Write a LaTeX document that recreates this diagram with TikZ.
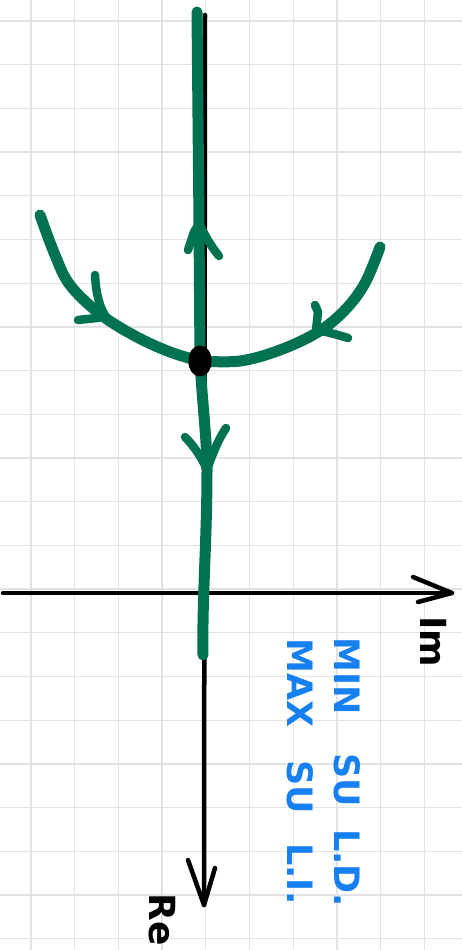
\documentclass[tikz,border=0pt]{standalone}
\usepackage{fontspec}
\setmainfont{DejaVu Sans}
\usetikzlibrary{shapes.geometric}
\definecolor{gridc}{RGB}{224,226,230}
\definecolor{pathg}{RGB}{0,114,82}
\definecolor{noteb}{RGB}{22,128,240}
\begin{document}
\begin{tikzpicture}[x=1pt,y=-1pt,
  gridline/.style={draw=gridc,line width=1.3pt},
  axisline/.style={draw=black,line width=4.5pt,line cap=round,line join=round},
  flow/.style={draw=pathg,line width=11pt,line cap=round,line join=round},
  flowarm/.style={draw=pathg,line width=8.5pt,line cap=round,line join=round},
  eqdot/.style={fill=black,ellipse,minimum width=23pt,minimum height=31pt,inner sep=0pt},
  note/.style={text=noteb,font=\bfseries\fontsize{35}{35}\selectfont,rotate=-90,inner sep=0pt},
  axlabel/.style={text=black,font=\bfseries\fontsize{36}{36}\selectfont,rotate=-90,inner sep=0pt}]
\useasboundingbox (0,0) rectangle (462,950);
\fill[white] (0,0) rectangle (462,950);
% grid
\foreach \i in {0,...,10} {\draw[gridline] ({31+43.7*\i},0) -- ({31+43.7*\i},950);}
\foreach \j in {0,...,21} {\draw[gridline] (0,{21+43.7*\j}) -- (462,{21+43.7*\j});}
% axes
\coordinate (imL) at (3,593);
\coordinate (imR) at (452,593);
\coordinate (reT) at (205,15);
\coordinate (reB) at (204,905);
\draw[axisline] (imL) -- (imR);
\draw[axisline] (413,577) -- (imR) -- (418,602);
\draw[axisline] (reT) -- (reB);
\draw[axisline] (188,860) -- (reB) -- (215,868);
\node[axlabel] (im) at (434,642) {Im};
\node[axlabel] (re) at (162,920) {Re};
% trajectories
\node[eqdot] (eq) at (200,361) {};
\coordinate (top) at (197,12);
\coordinate (upT) at (199,224);
\coordinate (dnT) at (207,470);
\coordinate (bot) at (203,655);
\coordinate (lT) at (40,215);
\coordinate (rT) at (380,247);
\draw[flow] (top) -- (upT) -- (eq.center);
\draw[flowarm] (188,250) -- (194,232) -- (upT) .. controls (205,235) and (210,245) .. (219,256);
\draw[flow] (eq.center) .. controls (202,400) and (207,440) .. (dnT) .. controls (207,540) and (202,600) .. (bot);
\draw[flowarm] (185,437) .. controls (195,447) and (203,460) .. (dnT) .. controls (212,455) and (218,440) .. (226,428);
\draw[flow] plot[smooth,tension=0.6] coordinates {(lT) (55,255) (70,285) (100,314) (135,336) (170,352) (eq.center)};
\draw[flowarm] (95,275) .. controls (96,295) and (100,308) .. (106,317) -- (78,320);
\draw[flow] plot[smooth,tension=0.6] coordinates {(eq.center) (240,361) (280,350) (318,332) (345,310) (365,283) (rT)};
\draw[flowarm] (315,305) -- (318,312) -- (316,330) .. controls (328,332) and (338,335) .. (348,338);
\node[eqdot] (eqtop) at (eq.center) {};
% notes
\node[note] (n1) at (347,676) {MIN};
\node[note] (n2) at (347,780) {SU};
\node[note] (n3) at (347,868) {L.D.};
\node[note] (n4) at (300,683) {MAX};
\node[note] (n5) at (300,787) {SU};
\node[note] (n6) at (300,874) {L.I.};
\end{tikzpicture}
\end{document}
